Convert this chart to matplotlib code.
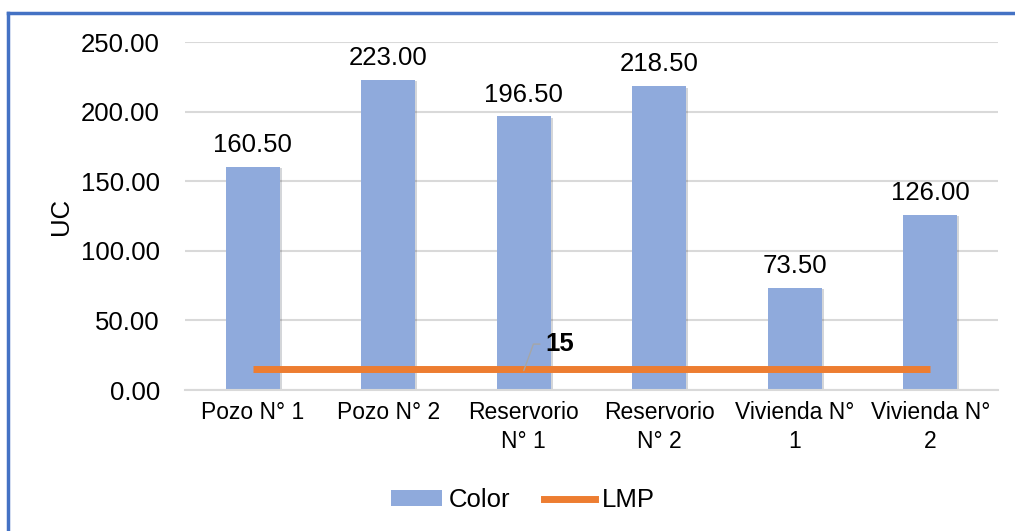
import numpy as np
import matplotlib.pyplot as plt
from matplotlib.patches import Patch
from matplotlib.lines import Line2D
from matplotlib import patheffects as pe

plt.rcParams['font.family'] = ['Liberation Sans', 'DejaVu Sans']

# Data
categories = ['Pozo N° 1', 'Pozo N° 2', 'Reservorio\nN° 1', 'Reservorio\nN° 2',
              'Vivienda N°\n1', 'Vivienda N°\n2']
color_vals = [160.50, 223.00, 196.50, 218.50, 73.50, 126.00]
lmp_vals = [15, 15, 15, 15, 15, 15]

bar_col = '#8FAADC'
line_col = '#ED7D31'
fs = 18.5

fig = plt.figure(figsize=(10.15, 5.31), dpi=100)
ax = fig.add_axes([0.1823, 0.2655, 0.801, 0.6554])

x = np.arange(len(categories))
bars = ax.bar(x, color_vals, width=0.4, color=bar_col, zorder=2,
              path_effects=[pe.SimplePatchShadow(offset=(1.2, -1.2), alpha=0.2),
                            pe.Normal()])
ax.plot(x, lmp_vals, color=line_col, linewidth=5, zorder=3, solid_capstyle='butt')

for xi, v in zip(x, color_vals):
    ax.text(xi, v + 7, f'{v:.2f}', ha='center', va='bottom', fontsize=fs)

# label of the LMP line with leader
ax.annotate(f'{lmp_vals[2]}', xy=(2.0, lmp_vals[2] - 1), xytext=(2.16, 33),
            fontsize=fs, fontweight='bold', ha='left', va='center',
            arrowprops=dict(arrowstyle='-', color='#A6A6A6', lw=1,
                            connectionstyle='angle,angleA=0,angleB=70,rad=0',
                            shrinkA=2, shrinkB=0))

ax.set_xlim(-0.5, 5.5)
ax.set_ylim(0, 250)
ax.set_yticks(np.arange(0, 251, 50))
ax.set_yticklabels([f'{t:.2f}' for t in np.arange(0, 251, 50)])
ax.set_xticks(x)
ax.set_xticklabels(categories, linespacing=1.3)
ax.tick_params(axis='both', length=0)
ax.tick_params(axis='y', pad=18, labelsize=fs)
ax.tick_params(axis='x', pad=8, labelsize=16.5)
ax.set_ylabel('UC', fontsize=fs, labelpad=6)

ax.grid(axis='y', color='#D9D9D9', linewidth=1.5, zorder=0)
ax.set_axisbelow(True)
for s in ['top', 'right', 'left']:
    ax.spines[s].set_visible(False)
ax.spines['bottom'].set_color('#D9D9D9')
ax.spines['bottom'].set_linewidth(1.5)

handles = [Patch(facecolor=bar_col, label='Color'),
           Line2D([0], [0], color=line_col, lw=5, label='LMP')]
fig.legend(handles=handles, loc='center', bbox_to_anchor=(0.515, 0.058), ncol=2,
           frameon=False, fontsize=fs, handlelength=2.0, handleheight=0.6,
           columnspacing=1.3, handletextpad=0.25)

# chart border
fig.add_artist(Line2D([8 / 1015, 8 / 1015], [0, 1 - 13 / 531], color='#4472C4', lw=2.5))
fig.add_artist(Line2D([8 / 1015, 1], [1 - 13 / 531, 1 - 13 / 531], color='#4472C4', lw=2.5))

fig.savefig('out.png', dpi=100)
